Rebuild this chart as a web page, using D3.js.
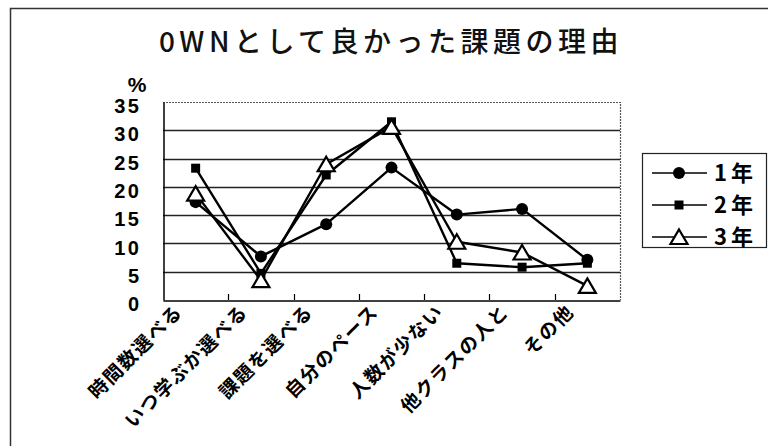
<!DOCTYPE html>
<html>
<head>
<meta charset="utf-8">
<script src="https://cdn.jsdelivr.net/npm/d3@7/dist/d3.min.js"></script>
<style>
  html, body { margin: 0; padding: 0; background: #fff; }
  svg { display: block; }
</style>
</head>
<body>
<svg id="chart" width="768" height="446"></svg>
<script>
// Reasons why the chosen task was good, by school year (%)
const categories = ["時間数選べる", "いつ学ぶか選べる", "課題を選べる", "自分のペース", "人数が少ない", "他クラスの人と", "その他"];
const year1 = [17.3, 7.7, 13.4, 23.4, 15.1, 16.1, 7.1];
const year2 = [23.3, 4.7, 22.1, 31.5, 6.5, 5.8, 6.5];
const year3 = [18.8, 3.5, 24.0, 30.6, 10.3, 8.4, 2.5];
const seriesNames = ["1年", "2年", "3年"];
const yTicks = [0, 5, 10, 15, 20, 25, 30, 35];
const titleText = "0WNとして良かった課題の理由";

const series = [
  { name: seriesNames[0], values: year1, marker: "circle" },
  { name: seriesNames[1], values: year2, marker: "square" },
  { name: seriesNames[2], values: year3, marker: "triangle" }
];

const svg = d3.select("#chart");
const jp = "'Noto Sans CJK JP', 'Liberation Sans', sans-serif";
const num = "'Liberation Sans', Arial, sans-serif";

// outer chart frame (top and left edges)
svg.append("path")
  .attr("d", "M10.5,446 L10.5,8.5 L768,8.5")
  .attr("fill", "none").attr("stroke", "#333").attr("stroke-width", 1.5);

// title
svg.append("text")
  .attr("x", 391).attr("y", 52)
  .attr("text-anchor", "middle")
  .attr("font-family", jp).attr("font-weight", 500)
  .attr("font-size", 28).attr("letter-spacing", 4.5)
  .attr("fill", "#111")
  .text(titleText);

const plot = { left: 163, right: 620, top: 102, bottom: 300 };
const x = d3.scaleBand().domain(categories).range([plot.left, plot.right]);
const y = d3.scaleLinear().domain([0, 35]).range([plot.bottom, plot.top]);
const cx = c => x(c) + x.bandwidth() / 2;

// horizontal gridlines
svg.append("g")
  .selectAll("line")
  .data(yTicks.filter(t => t > 0 && t < 35))
  .join("line")
  .attr("x1", plot.left).attr("x2", plot.right)
  .attr("y1", d => Math.round(y(d)) + 0.5).attr("y2", d => Math.round(y(d)) + 0.5)
  .attr("stroke", "#222").attr("stroke-width", 1.3);

// dotted top and right plot edges
svg.append("path")
  .attr("d", `M${plot.left},${plot.top + 0.5} L${plot.right + 0.5},${plot.top + 0.5} L${plot.right + 0.5},${plot.bottom}`)
  .attr("fill", "none").attr("stroke", "#555").attr("stroke-width", 1.2)
  .attr("stroke-dasharray", "2,1");

// y axis
const yAxis = d3.axisLeft(y).tickValues(yTicks).tickSize(0).tickPadding(0);
const gy = svg.append("g")
  .attr("transform", `translate(${plot.left + 0.5},0)`)
  .call(yAxis);
gy.select(".domain").attr("stroke", "#000").attr("stroke-width", 1.5);
gy.selectAll(".tick text")
  .attr("x", 141 - plot.left)
  .attr("dy", "0.38em")
  .attr("transform", "translate(0,3)")
  .attr("font-family", num).attr("font-weight", "bold")
  .attr("font-size", 20).attr("letter-spacing", 2.5)
  .attr("text-anchor", "end")
  .attr("fill", "#000");

svg.append("text")
  .attr("x", 137).attr("y", 92)
  .attr("text-anchor", "middle")
  .attr("font-family", num).attr("font-weight", "bold").attr("font-size", 21)
  .attr("fill", "#000")
  .text("%");

// x axis with inward ticks at category boundaries
const xAxis = d3.axisBottom(x).tickSize(0).tickFormat("");
const gx = svg.append("g")
  .attr("transform", `translate(0,${plot.bottom + 0.5})`)
  .call(xAxis);
gx.select(".domain").attr("stroke", "#000").attr("stroke-width", 1.5);
svg.append("g")
  .selectAll("line")
  .data(categories.slice(1))
  .join("line")
  .attr("x1", d => Math.round(x(d)) + 0.5).attr("x2", d => Math.round(x(d)) + 0.5)
  .attr("y1", plot.bottom).attr("y2", plot.bottom - 6)
  .attr("stroke", "#000").attr("stroke-width", 1.2);

// rotated category labels
svg.append("g")
  .selectAll("text")
  .data(categories)
  .join("text")
  .attr("transform", d => `translate(${cx(d) - 12},${plot.bottom + 13}) rotate(-45)`)
  .attr("text-anchor", "end")
  .attr("font-family", jp).attr("font-weight", "bold")
  .attr("font-size", 19).attr("letter-spacing", 1.5)
  .attr("fill", "#000")
  .text(d => d);

// marker shapes
function drawMarker(g, type, px, py) {
  if (type === "circle") {
    g.append("circle").attr("cx", px).attr("cy", py).attr("r", 6).attr("fill", "#000");
  } else if (type === "square") {
    g.append("rect").attr("x", px - 4.5).attr("y", py - 4.5)
      .attr("width", 9).attr("height", 9).attr("fill", "#000");
  } else {
    g.append("path")
      .attr("d", `M${px},${py - 7.5} L${px + 8.5},${py + 7} L${px - 8.5},${py + 7} Z`)
      .attr("fill", "#fff").attr("stroke", "#000").attr("stroke-width", 2.2)
      .attr("stroke-linejoin", "miter");
  }
}

const line = d3.line()
  .x((d, i) => cx(categories[i]))
  .y(d => y(d));

series.forEach(s => {
  const g = svg.append("g");
  g.append("path")
    .datum(s.values)
    .attr("d", line)
    .attr("fill", "none").attr("stroke", "#000").attr("stroke-width", 2.4)
    .attr("stroke-linejoin", "round");
  s.values.forEach((v, i) => drawMarker(g, s.marker, cx(categories[i]), y(v)));
});

// legend
const legend = svg.append("g");
legend.append("rect")
  .attr("x", 642.5).attr("y", 153.5).attr("width", 124).attr("height", 94)
  .attr("fill", "#fff").attr("stroke", "#222").attr("stroke-width", 1.2);
const legendY = [173, 205, 237];
series.forEach((s, i) => {
  const ly = legendY[i];
  legend.append("line")
    .attr("x1", 652).attr("x2", 707).attr("y1", ly).attr("y2", ly)
    .attr("stroke", "#000").attr("stroke-width", 1.6);
  drawMarker(legend, s.marker, 679, ly);
  legend.append("text")
    .attr("x", 714).attr("y", ly)
    .attr("dy", "0.36em")
    .attr("font-family", jp).attr("font-weight", "bold")
    .attr("font-size", 22).attr("letter-spacing", 4)
    .attr("fill", "#000")
    .text(s.name);
});
</script>
</body>
</html>
